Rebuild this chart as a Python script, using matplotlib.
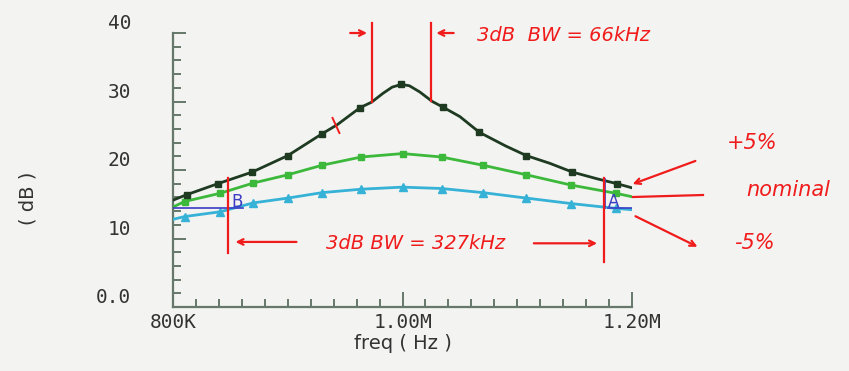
import matplotlib.pyplot as plt
from matplotlib.ticker import FixedLocator, MultipleLocator

# frequency sweep (kHz) and gain (dB)
freq_plus = [800, 812, 839, 869, 900, 930, 943, 963, 973, 983, 991, 999, 1006,
             1015, 1026, 1035, 1050, 1067, 1090, 1108, 1128, 1148, 1170, 1187,
             1200]
gain_plus = [15.6, 16.4, 18.0, 19.7, 22.1, 25.3, 26.6, 29.1, 29.9, 31.2, 32.1,
             32.5, 32.3, 31.4, 30.0, 29.2, 27.8, 25.5, 23.5, 22.1, 21.0, 19.7,
             18.7, 18.0, 17.4]
marks_plus = [812, 839, 869, 900, 930, 963, 999, 1035, 1067, 1108, 1148, 1187]

freq_nom = [800, 810, 841, 870, 900, 930, 964, 1000, 1034, 1070, 1108, 1147,
            1186, 1200]
gain_nom = [14.6, 15.4, 16.6, 18.1, 19.3, 20.7, 21.9, 22.4, 21.9, 20.7, 19.3,
            17.8, 16.6, 16.1]

freq_minus = [800, 810, 841, 870, 900, 930, 964, 1000, 1034, 1070, 1108, 1147,
              1186, 1200]
gain_minus = [12.8, 13.2, 13.9, 15.2, 15.9, 16.7, 17.2, 17.5, 17.3, 16.7, 15.9,
              15.1, 14.4, 14.2]
# first and last points are curve ends, everything between carries a marker
marks_side = freq_nom[1:-1]

xtick_vals = [800, 1000, 1200]
xtick_labels = ["800K", "1.00M", "1.20M"]
ytick_vals = [0, 10, 20, 30, 40]
ytick_labels = ["0.0", "10", "20", "30", "40"]

RED = "#f01c1c"
BLUE = "#3b3bc4"
AXIS = "#66786a"

fig = plt.figure(figsize=(8.49, 3.71), dpi=100, facecolor="#f3f3f2")
ax = fig.add_axes([0.2038, 0.1725, 0.5406, 0.7385])
ax.set_facecolor("#f3f3f2")


def marks(freqs, wanted):
    return [i for i, f in enumerate(freqs) if f in wanted]


ax.plot(freq_minus, gain_minus, color="#36b2d6", lw=2, marker="^", ms=6,
        markevery=marks(freq_minus, marks_side), zorder=3)
ax.plot(freq_nom, gain_nom, color="#3cb83a", lw=2, marker="s", ms=5,
        markevery=marks(freq_nom, marks_side), zorder=3)
ax.plot(freq_plus, gain_plus, color="#1e3b22", lw=2, marker="s", ms=5,
        markevery=marks(freq_plus, marks_plus), zorder=4)

ax.set_xlim(800, 1200)
ax.set_ylim(0, 40)

for side in ["top", "right"]:
    ax.spines[side].set_visible(False)
for side in ["left", "bottom"]:
    ax.spines[side].set_color(AXIS)
    ax.spines[side].set_linewidth(1.6)

mono = "DejaVu Sans Mono"
ax.xaxis.set_major_locator(FixedLocator(xtick_vals))
ax.set_xticklabels(xtick_labels, fontfamily=mono, fontsize=14, color="#333333")
ax.xaxis.set_minor_locator(MultipleLocator(20))
ax.yaxis.set_major_locator(FixedLocator(ytick_vals))
ax.set_yticklabels(ytick_labels, fontfamily=mono, fontsize=14, color="#333333",
                   va="bottom")
ax.yaxis.set_minor_locator(MultipleLocator(2))
ax.tick_params(axis="both", which="both", direction="in", color=AXIS, width=1.4)
ax.tick_params(axis="y", which="major", length=9, pad=30)
ax.tick_params(axis="y", which="minor", length=6)
ax.tick_params(axis="x", which="major", length=11, pad=4)
ax.tick_params(axis="x", which="minor", length=6)

ax.set_xlabel("freq ( Hz )", fontfamily="DejaVu Sans", fontsize=14,
              color="#333333", labelpad=2)
fig.text(0.033, 0.465, "( dB )", rotation=90, ha="center", va="center",
         fontfamily="DejaVu Sans", fontsize=14, color="#333333")

# blue cursor markers A / B
ax.plot([800, 861], [14.45, 14.45], color=BLUE, lw=1.2, zorder=5)
ax.plot([847.8, 847.8], [14.2, 18.7], color=BLUE, lw=1.2, zorder=5)
ax.text(851, 14.6, "B", color=BLUE, fontsize=12, zorder=5)
ax.plot([1176.5, 1176.5], [14.4, 18.7], color=BLUE, lw=1.2, zorder=5)
ax.plot([1179, 1200], [14.45, 14.45], color=BLUE, lw=1.2, zorder=5)
ax.text(1179, 14.6, "A", color=BLUE, fontsize=12, zorder=5)

# red hand annotations, wide 3 dB bandwidth
ax.plot([847.8, 847.8], [7.9, 18.8], color=RED, lw=1.6, zorder=6)
ax.plot([1175.7, 1175.7], [6.6, 18.8], color=RED, lw=1.6, zorder=6)
ax.annotate("", xy=(852, 9.5), xytext=(910, 9.5),
            arrowprops=dict(arrowstyle="->", color=RED, lw=1.6))
ax.annotate("", xy=(1172, 9.3), xytext=(1112, 9.3),
            arrowprops=dict(arrowstyle="->", color=RED, lw=1.6))
ax.text(1011, 9.3, "3dB BW = 327kHz", color=RED, fontsize=14, ha="center",
        va="center", style="italic")

# red hand annotations, narrow 3 dB bandwidth
ax.plot([973, 973], [29.9, 41.5], color=RED, lw=1.6, clip_on=False, zorder=6)
ax.plot([1025.2, 1025.2], [30.1, 41.5], color=RED, lw=1.6, clip_on=False, zorder=6)
ax.annotate("", xy=(971.5, 40), xytext=(952, 40), annotation_clip=False,
            arrowprops=dict(arrowstyle="->", color=RED, lw=1.6))
ax.annotate("", xy=(1027, 40), xytext=(1047, 40), annotation_clip=False,
            arrowprops=dict(arrowstyle="->", color=RED, lw=1.6))
ax.text(1065, 39.6, "3dB  BW = 66kHz", color=RED, fontsize=14, ha="left",
        va="center", style="italic", clip_on=False)
ax.plot([939, 945], [27.6, 25.4], color=RED, lw=1.4, zorder=6)

# labels for the three curves on the right
fig.text(752 / 849, 1 - 143 / 371, "+5%", color=RED, fontsize=15, ha="center",
         va="center", style="italic")
fig.text(788 / 849, 1 - 190 / 371, "nominal", color=RED, fontsize=15,
         ha="center", va="center", style="italic")
fig.text(754 / 849, 1 - 243 / 371, "-5%", color=RED, fontsize=15, ha="center",
         va="center", style="italic")
fig.add_artist(plt.Line2D([703 / 849, 633 / 849], [1 - 195 / 371, 1 - 197 / 371],
                          color=RED, lw=1.6))
ax.annotate("", xy=(630 / 849, 1 - 185 / 371), xytext=(698 / 849, 1 - 160 / 371),
            xycoords="figure fraction", textcoords="figure fraction",
            arrowprops=dict(arrowstyle="->", color=RED, lw=1.6))
ax.annotate("", xy=(700 / 849, 1 - 248 / 371), xytext=(633 / 849, 1 - 215 / 371),
            xycoords="figure fraction", textcoords="figure fraction",
            arrowprops=dict(arrowstyle="->", color=RED, lw=1.6))

fig.savefig("out.png", dpi=100, facecolor=fig.get_facecolor())
